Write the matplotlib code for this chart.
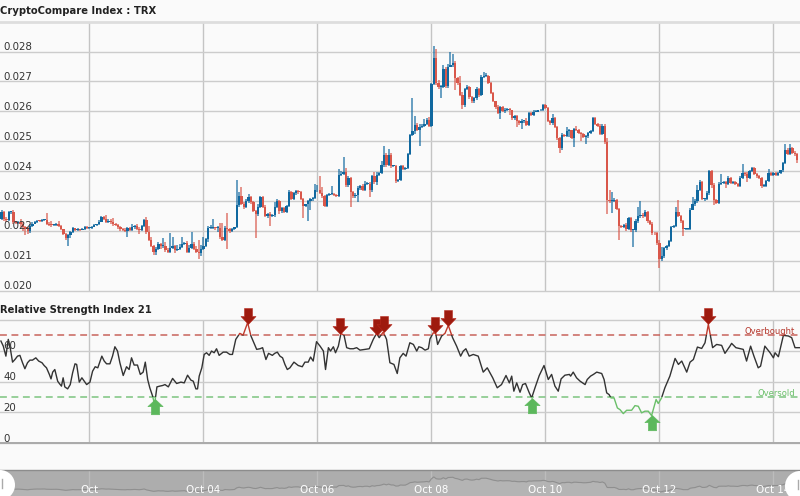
"""TRX hourly candles with RSI(21) and a navigator strip, CryptoCompare style."""

import matplotlib
matplotlib.use("Agg")
import matplotlib.pyplot as plt
import numpy as np
from matplotlib.patches import Circle, Rectangle
from matplotlib.path import Path

# hourly closes, in 1e-5 units
close = [
    2240, 2262, 2240, 2235, 2262, 2262, 2228, 2226, 2230, 2222, 2212, 2205, 2200, 2215, 2224, 2230,
    2234, 2232, 2236, 2236, 2224, 2220, 2218, 2220, 2222, 2216, 2205, 2190, 2175, 2185, 2195, 2208,
    2202, 2205, 2204, 2206, 2213, 2208, 2210, 2214, 2218, 2222, 2230, 2245, 2240, 2230, 2234, 2228,
    2222, 2218, 2212, 2205, 2203, 2200, 2208, 2204, 2212, 2215, 2207, 2202, 2215, 2236, 2195, 2170,
    2150, 2130, 2140, 2155, 2148, 2150, 2135, 2130, 2142, 2150, 2135, 2140, 2147, 2155, 2158, 2130,
    2142, 2155, 2140, 2130, 2125, 2140, 2150, 2172, 2210, 2210, 2210, 2208, 2210, 2180, 2170, 2210,
    2205, 2198, 2205, 2212, 2285, 2315, 2290, 2280, 2300, 2312, 2295, 2265, 2255, 2280, 2312, 2280,
    2250, 2255,
    2251, 2254, 2280, 2299, 2265, 2276, 2263, 2282, 2329, 2308, 2327, 2332, 2329, 2306, 2284, 2288,
    2301, 2306, 2310, 2335, 2335, 2327, 2315, 2284, 2321, 2324, 2324, 2321, 2318, 2388, 2391, 2396,
    2354, 2377, 2329, 2315, 2321, 2343, 2349, 2338, 2358, 2358, 2335, 2382, 2362, 2388, 2393, 2419,
    2455, 2421, 2455, 2416, 2416, 2366, 2371, 2416, 2407, 2410, 2458, 2521, 2533, 2555, 2538, 2547,
    2552, 2558, 2572, 2552, 2692, 2778, 2694, 2681, 2683, 2741, 2685, 2750, 2755, 2761, 2711, 2694,
    2655, 2622, 2674, 2681, 2647, 2633, 2644, 2674, 2655, 2716, 2719, 2719, 2694, 2661, 2633, 2614,
    2594, 2614, 2600, 2605, 2607, 2603, 2577, 2583, 2566, 2560, 2569, 2569, 2555, 2594,
    2588, 2599, 2599, 2603, 2605, 2622, 2611, 2569, 2560, 2577, 2549, 2510, 2477, 2521, 2518, 2533,
    2536, 2510, 2540, 2538, 2527, 2525, 2514, 2516, 2527, 2535, 2577, 2558, 2552, 2525, 2552, 2496,
    2302, 2299, 2299, 2304, 2273, 2215, 2213, 2220, 2206, 2243, 2202, 2202, 2232, 2249, 2254, 2249,
    2262, 2232, 2224, 2193, 2191, 2159, 2104, 2115, 2143, 2148, 2165, 2213, 2215, 2263, 2249, 2232,
    2206, 2206, 2206, 2271, 2288, 2299, 2338, 2362, 2306, 2306, 2327, 2399, 2354, 2304, 2293, 2358,
    2360, 2362, 2358, 2377, 2360, 2362, 2357, 2349, 2377, 2393, 2391, 2377, 2399, 2410, 2391, 2382,
    2377, 2349, 2351, 2366, 2393, 2388, 2393, 2388, 2393, 2402, 2427, 2471, 2458, 2477, 2462, 2458,
    2438,
]

# wick length beyond the body, same units
upper = [
    5, 6, 4, 5, 5, 3, 6, 4, 3, 8, 6, 5, 8, 6, 4, 3, 2, 3, 2, 4,
    25, 5, 12, 4, 3, 12, 3, 2, 2, 3, 3, 4, 2, 3, 2, 3, 4, 3, 2, 3,
    4, 2, 6, 5, 3, 12, 6, 4, 14, 3, 3, 4, 3, 5, 3, 5, 10, 4, 6, 5,
    3, 4, 10, 20, 10, 3, 5, 8, 5, 25, 12, 8, 50, 30, 4, 12, 8, 25, 5, 8,
    12, 40, 6, 10, 40, 12, 30, 5, 6, 10, 30, 3, 5, 15, 45, 5, 50, 3, 5, 2,
    85, 15, 30, 6, 5, 12, 5, 3, 4, 8, 3, 5, 6, 5,
    8, 3, 15, 6, 3, 4, 2, 3, 6, 4, 4, 6, 3, 3, 3, 3, 3, 3, 3, 20,
    18, 50, 20, 4, 3, 3, 25, 3, 3, 20, 8, 50, 15, 5, 4, 3, 4, 6, 5, 6,
    8, 5, 4, 5, 14, 10, 3, 15, 28, 6, 18, 6, 3, 3, 3, 4, 5, 3, 4, 4,
    110, 30, 6, 10, 6, 15, 5, 8, 3, 40, 30, 10, 5, 15, 6, 8, 45, 30, 8, 5,
    25, 8, 5, 8, 3, 4, 4, 6, 4, 4, 12, 10, 3, 4, 4, 3, 6, 3, 4, 6,
    4, 3, 3, 4, 3, 4, 5, 3, 8, 5,
    3, 6, 4, 3, 3, 4, 3, 4, 3, 15, 4, 3, 3, 5, 3, 16, 4, 3, 4, 12,
    3, 3, 3, 3, 4, 3, 4, 3, 3, 5, 4, 5, 15, 35, 30, 5, 4, 3, 3, 3,
    5, 4, 3, 3, 6, 30, 45, 5, 6, 3, 3, 5, 4, 5, 10, 30, 4, 3, 3, 4,
    4, 18, 40, 4, 3, 3, 3, 5, 25, 8, 15, 8, 5, 5, 6, 6, 5, 5, 4, 5,
    30, 6, 4, 6, 4, 3, 3, 4, 5, 30, 5, 5, 4, 4, 3, 3, 4, 3, 5, 4,
    14, 3, 3, 3, 4, 3, 4, 18, 6, 15, 5, 4, 4,
]
lower = [
    3, 5, 8, 4, 3, 6, 5, 4, 5, 8, 12, 18, 10, 6, 3, 2, 3, 2, 3, 3,
    5, 4, 6, 2, 3, 2, 4, 3, 5, 25, 8, 3, 4, 3, 6, 3, 2, 3, 3, 3,
    2, 3, 2, 2, 3, 4, 3, 5, 6, 3, 5, 6, 3, 4, 20, 5, 4, 6, 5, 12,
    3, 3, 5, 4, 6, 12, 10, 5, 8, 5, 6, 4, 5, 4, 8, 3, 6, 5, 4, 5,
    6, 4, 5, 3, 18, 8, 6, 5, 10, 4, 3, 5, 12, 8, 3, 5, 65, 5, 3, 3,
    4, 5, 3, 8, 5, 6, 4, 3, 80, 6, 4, 5, 3, 6,
    35, 5, 8, 5, 8, 4, 5, 5, 4, 4, 5, 6, 5, 4, 40, 5, 55, 30, 6, 5,
    4, 5, 5, 4, 5, 5, 4, 6, 4, 4, 5, 4, 8, 6, 50, 5, 4, 25, 6, 4,
    6, 5, 22, 6, 5, 8, 3, 4, 6, 6, 5, 6, 3, 5, 4, 5, 4, 3, 4, 3,
    3, 10, 4, 55, 4, 5, 4, 6, 3, 4, 5, 8, 35, 5, 6, 8, 3, 5, 40, 5,
    5, 15, 6, 4, 5, 6, 6, 5, 8, 4, 3, 4, 4, 3, 3, 5, 3, 20, 4, 6,
    5, 15, 6, 6, 20, 6, 18, 8, 4, 4,
    5, 3, 3, 3, 3, 3, 3, 6, 5, 5, 5, 6, 18, 5, 4, 3, 20, 3, 30, 4,
    4, 25, 4, 25, 4, 3, 3, 5, 5, 4, 4, 4, 45, 6, 40, 4, 5, 45, 4, 5,
    6, 4, 5, 55, 6, 5, 5, 5, 4, 6, 5, 6, 5, 5, 30, 5, 5, 6, 4, 3,
    4, 3, 4, 5, 22, 4, 3, 3, 3, 4, 5, 4, 4, 5, 4, 6, 10, 18, 3, 3,
    4, 3, 16, 4, 5, 3, 3, 4, 3, 3, 6, 15, 4, 3, 4, 4, 5, 6, 4, 4,
    4, 4, 5, 3, 4, 3, 4, 3, 5, 4, 4, 6, 12,
]

rsi_hour = [
    0.7, 1.7, 2.8, 3.8, 4.6, 5.6, 6.6, 7.7, 8.7, 9.8, 10.8, 11.9, 12.9, 14, 15.4, 16.6,
    18, 18.9, 19.9, 21.1, 21.8, 22.5, 23.4, 24.6, 25.3, 26.2, 26.9, 27.6, 28.8, 29.9, 30.9, 31.9,
    32.6, 33.7, 34.8, 35.8, 36.8, 38.2, 39.3, 40.4, 41.5, 43.2, 44.2, 45.2, 46.6, 47.7, 48.7, 49.8,
    50.8, 52.2, 53.6, 54.7, 55.7, 56.8, 58.2, 59.4, 60.6, 61.5, 62.5, 63.4, 64.6, 65.4, 66.4, 67.6,
    68.8, 69.8, 71.2, 73, 74.7, 76.5, 77.9, 79.3, 80.7, 81.7, 82.8, 83.5, 84.2, 85.3, 86.3, 87.3,
    88.4, 89.4, 90.5, 91.5, 92.6, 94.3, 95.7, 97.1, 98.2, 99.6, 101.3, 102.7, 104.6, 106, 106.9, 108.4,
    109.8, 110.9, 112.3, 113.4, 115, 116, 117.1, 118.2, 119.3, 120.3, 121.3, 122.4, 124.1, 125.9, 127.6, 128.7,
    130.1, 131.1, 132.2, 133.6, 135.1, 136.5, 137.4, 138.6, 139.5, 140.7, 141.6, 142.8, 143.9, 145.2, 146.3, 147.7,
    149.1, 150.5, 151.9, 154, 155.8, 157.5, 158.9, 160, 161.7, 163.1, 164.5, 166.2, 167.6, 168.7, 170.1, 171.3,
    172.9, 174.4, 175.8, 176.7, 177.9, 179.3, 180.7, 181.4, 182.8, 183.8, 184.6, 186.3, 187.7, 189.1, 190.9, 192.6,
    194.3, 195.4, 196.5, 197.9, 199.6, 201.7, 203.8, 205.5, 207.8, 209.7, 211.5, 213.4, 214.8, 215.8, 216.7, 217.9,
    219.3, 220.4, 221.6, 223.2, 224.2, 225.6, 227.4, 229.4, 231.2, 232.6, 234, 235.4, 236.6, 238.2, 240.1, 240.6,
    241.7, 243.1, 244.6, 246.7, 247.6, 249, 250.2, 251.6, 253.7, 254.7, 255.8, 256.8, 257.6, 258.9, 260.3, 261.4,
    262.8, 264.2, 266.3, 267.7, 269.1, 270.5, 271.9, 273.3, 274.7, 276.6, 277.5, 278.9, 280.3, 282.4, 284.6, 286,
    287.4, 289.5, 290.9, 292.3, 294, 295.8, 297.2, 298.6, 300.4, 302.1, 304.2, 305.6, 307.7, 308.4, 310.2, 313.3,
    314.7, 316.4, 317.8, 319.6, 320.6, 322.4, 324.6, 326, 326.7, 328.1, 330.2, 332.3, 333.7, 335.1, 336.9,
]
rsi_value = [
    66.3, 63, 56.5, 67.4, 62, 52.6, 54.3, 56.5, 57, 52.2, 48.3, 52.2, 53.9, 53.9, 55.4, 53.3,
    52.2, 50.4, 48.9, 44.6, 41.7, 46.1, 47.8, 40.2, 38.7, 37, 42.4, 36.5, 35.2, 38, 45.7, 51.5,
    51.1, 39.6, 42.4, 40.2, 38, 39.6, 46.7, 49.6, 48.9, 56.5, 53.3, 51.5, 51.5, 56.5, 62.6, 59.8,
    52.2, 43.9, 49.6, 47.8, 55.4, 50.7, 50.7, 44.6, 46.1, 52.6, 41.3, 35.9, 30.4, 25, 36.5, 37,
    37.4, 38, 36.5, 42, 38.7, 39.6, 39.1, 44.1, 40.9, 40.2, 35.2, 35.2, 43.5, 48.9, 57.6, 58.7,
    57, 59.8, 58.7, 61.3, 57, 59.1, 59.1, 57.6, 57.6, 67.4, 71.3, 70.2, 78.3, 69.6, 66.3, 60.9,
    61.3, 62, 54.3, 58.3, 57, 58.3, 59.1, 56.5, 55.4, 51.1, 47.8, 48.9, 52.6, 50.4, 49.6, 52.6,
    52.6, 55.9, 53.3, 65.9, 63, 59.8, 47.8, 62, 59.8, 62.6, 58.7, 63, 71.3, 70, 62, 61.3,
    61.3, 62, 60.4, 60.9, 61.3, 67.4, 71.3, 68.5, 72.2, 67.4, 52.2, 51.1, 45.2, 55.4, 58.3, 56.5,
    65.2, 64.1, 59.8, 62.6, 62, 60.4, 61.3, 67.8, 71.7, 71.3, 64.1, 69.6, 71.3, 76.5, 68.5, 63,
    56.5, 59.8, 61.3, 56.5, 57.6, 56.5, 46.1, 48.9, 42.4, 35.9, 38, 43.9, 39.1, 43.5, 33.7, 39.1,
    33, 38, 38.7, 32.6, 29.3, 35.9, 43.9, 50.4, 41.3, 44.6, 37, 33.7, 41.7, 44.1, 44.6, 43.5,
    46.1, 42.4, 40.2, 38, 41.3, 43.5, 44.6, 46.1, 45.2, 41.3, 32.6, 31.5, 29.3, 29.3, 22.8, 21.7,
    19.1, 21.3, 21.3, 24.3, 23.9, 19.6, 20.7, 20.7, 17.8, 28.3, 25.7, 29.3, 35.9, 43.5, 55, 51.1,
    53.3, 46.1, 52.6, 54.3, 62.4, 61.5, 65.2, 77.2, 62, 64.1, 63.5, 58.3, 63, 64.8, 62, 60.9,
    53.3, 63, 56.5, 48.9, 50, 63, 58.7, 55.4, 58.7, 56.1, 70, 69.6, 68.5, 62, 62,
]

sell_hour = [104.7, 143.5, 159, 162, 183.5, 189, 298.4]
sell_tip = [77.4, 71, 70.3, 72, 71.3, 76, 77.2]
buy_hour = [65.6, 224.3, 274.8]
buy_tip = [28.5, 29.3, 17.9]

price_ticks = [0.020, 0.021, 0.022, 0.023, 0.024, 0.025, 0.026, 0.027, 0.028]
rsi_ticks = [0, 20, 40, 60, 80]
rsi_tick_labels = ["0", "20", "40", "60", ""]
date_hours = [38, 86, 134, 182, 230, 278, 326]
date_labels = ["Oct", "Oct 04", "Oct 06", "Oct 08", "Oct 10", "Oct 12", "Oct 14"]

W, H = 800, 496
XLIM = (0.316, 337.2)
BG = "#fafafa"
GRID = "#cccccc"
UP = "#10689f"
DOWN = "#d9574a"
TEXT = "#333333"
FS = 7.4


def panel(fig, top, bottom):
    ax = fig.add_axes([0, 1 - bottom / H, 1, (bottom - top) / H])
    ax.set_facecolor("none")
    ax.set_xlim(*XLIM)
    for s in ax.spines.values():
        s.set_visible(False)
    ax.tick_params(left=False, bottom=False, labelleft=False, labelbottom=False)
    return ax


def grid(ax, yticks):
    for h in date_hours:
        ax.axvline(h, color="#c4c4c4", lw=1.0, zorder=1)
    for y in yticks:
        ax.axhline(y, color=GRID, lw=1.0, zorder=1, clip_on=False)


fig = plt.figure(figsize=(W / 100, H / 100), dpi=100, facecolor=BG)

# price panel
ax = panel(fig, 22, 290.5)
ax.set_ylim(0.02000, 0.02899)
grid(ax, price_ticks)
ax.axhline(0.02899, color="#dddddd", lw=2, clip_on=False)

c = np.array(close) / 1e5
o = np.r_[c[0], c[:-1]]
hours = np.arange(len(c))
top = np.maximum(o, c)
bot = np.minimum(o, c)
hi = top + np.array(upper) / 1e5
lo = bot - np.array(lower) / 1e5
colors = [UP if a >= b else DOWN for a, b in zip(c, o)]
ax.vlines(hours, lo, hi, colors=colors, lw=1.1, alpha=0.8, zorder=2)
ax.bar(hours, np.maximum(top - bot, 0.00003), bottom=bot, width=1.0, color=colors, lw=0, zorder=3)

for t in price_ticks:
    ax.annotate(f"{t:.3f}", (0, t), xycoords=("axes fraction", "data"), xytext=(2.2, -0.5),
                textcoords="offset points", fontsize=FS, color=TEXT, va="bottom", zorder=5)

# rsi panel
ax2 = panel(fig, 320, 443)
ax2.set_ylim(0, 80)
grid(ax2, rsi_ticks)
ax2.axhline(0, color="#aaaaaa", lw=1.4, clip_on=False)
ax2.axhline(70, color="#c8635c", lw=1.1, ls=(0, (4.5, 3)), zorder=2)
ax2.axhline(30, color="#7cc47f", lw=1.1, ls=(0, (4.5, 3)), zorder=2)

for lo_v, hi_v, col in [(30, 70, "#333333"), (70, 100, "#c0392b"), (-5, 30, "#6abf69")]:
    line, = ax2.plot(rsi_hour, rsi_value, color=col, lw=1.0, zorder=3, clip_on=True)
    line.set_clip_path(Rectangle((0, lo_v), 340, hi_v - lo_v, transform=ax2.transData))

# arrows, tip at the origin, scaled as a marker of height 1
down_arrow = Path([(0, 0), (0.47, 0.5), (0.25, 0.5), (0.25, 1), (-0.25, 1), (-0.25, 0.5), (-0.47, 0.5), (0, 0)], closed=True)
up_arrow = Path([(0, 0), (0.5, -0.47), (0.27, -0.47), (0.27, -1), (-0.27, -1), (-0.27, -0.47), (-0.5, -0.47), (0, 0)], closed=True)
ax2.plot(sell_hour, sell_tip, ls="", marker=down_arrow, ms=23, mfc="#9e1a0e", mec="#b5271b", mew=0.4, zorder=4, clip_on=False)
ax2.plot(buy_hour, buy_tip, ls="", marker=up_arrow, ms=22, mfc="#5cb85c", mec="#5cb85c", mew=0.4, zorder=4, clip_on=False)

for t, lab in zip(rsi_ticks, rsi_tick_labels):
    ax2.annotate(lab, (0, t), xycoords=("axes fraction", "data"), xytext=(2.2, -0.5),
                 textcoords="offset points", fontsize=FS, color=TEXT, va="bottom", zorder=5)
ax2.annotate("Overbought", (1, 70), xycoords=("axes fraction", "data"), xytext=(-3.5, -0.5),
             textcoords="offset points", fontsize=6, color="#b5362b", ha="right", va="bottom")
ax2.annotate("Oversold", (1, 30), xycoords=("axes fraction", "data"), xytext=(-3.5, -1),
             textcoords="offset points", fontsize=6, color="#6abf69", ha="right", va="bottom")

# navigator
nav = panel(fig, 470, 496)
nav.set_ylim(0.01920, 0.03087)
nav.set_facecolor("#adadad")
nav.spines["top"].set_visible(True)
nav.spines["top"].set_color("#8c8c8c")
nav.spines["top"].set_linewidth(1.0)
for h in date_hours:
    nav.axvline(h, color="#bcbcbc", lw=1.0, zorder=1)
nav.fill_between(hours, 0.0192, c, color="#b4b4b4", lw=0, zorder=1)
nav.plot(hours, c, color="#8f8f8f", lw=0.8, zorder=2)
for h, lab in zip(date_hours, date_labels):
    nav.text(h, 0.02175, lab, color="white", fontsize=FS, ha="center", va="center", zorder=3)

# overlay in pixel coordinates for titles and navigator handles
over = fig.add_axes([0, 0, 1, 1])
over.set_xlim(0, W)
over.set_ylim(H, 0)
over.axis("off")
over.patch.set_alpha(0)
over.text(0.5, 11.5, "CryptoCompare Index : TRX", fontsize=7.2, fontweight="bold", color="#222222", va="center")
over.text(0.5, 310, "Relative Strength Index 21", fontsize=7.2, fontweight="bold", color="#222222", va="center")
over.add_patch(Circle((0, 485), 15, fc="white", ec="none"))
over.add_patch(Circle((800, 486), 15, fc="white", ec="none"))
over.plot([2, 2], [479, 488], color="#aaaaaa", lw=1)
over.plot([798, 798], [480, 489], color="#aaaaaa", lw=1)

fig.savefig("out.png", dpi=100, facecolor=BG)
